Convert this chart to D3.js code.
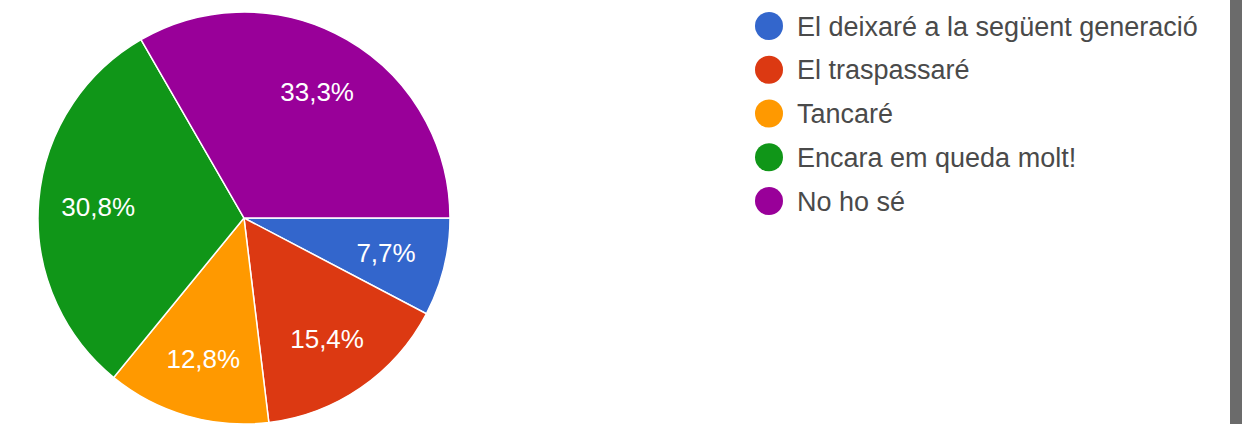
<!DOCTYPE html>
<html>
<head>
<meta charset="utf-8">
<script src="https://cdn.jsdelivr.net/npm/d3@7"></script>
<style>
  body { margin: 0; background: #fff; }
  svg { display: block; font-family: "Liberation Sans", Arial, sans-serif; }
</style>
</head>
<body>
<svg width="1242" height="424"></svg>
<script>
const categories = ["El deixaré a la següent generació", "El traspassaré", "Tancaré", "Encara em queda molt!", "No ho sé"];
const counts = [3, 6, 5, 12, 13];
const percentLabels = ["7,7%", "15,4%", "12,8%", "30,8%", "33,3%"];
const colors = ["#3366cc", "#dc3912", "#ff9900", "#109618", "#990099"];

const svg = d3.select("svg");
const width = +svg.attr("width");
const height = +svg.attr("height");

svg.append("rect").attr("width", width).attr("height", height).attr("fill", "#fff");

// dark scrollbar strip at the right edge
svg.append("rect")
    .attr("x", width - 12).attr("y", 0)
    .attr("width", 12).attr("height", height)
    .attr("fill", "#6b6b6b");

const data = categories.map((c, i) => ({ cat: c, value: counts[i], label: percentLabels[i], color: colors[i] }));

const radius = 206;
const g = svg.append("g").attr("transform", "translate(244, 218)");

// slices start at 3 o'clock and go clockwise
const pie = d3.pie()
    .sort(null)
    .value(d => d.value)
    .startAngle(Math.PI / 2)
    .endAngle(Math.PI / 2 + 2 * Math.PI);

const arc = d3.arc().innerRadius(0).outerRadius(radius);
const labelArc = d3.arc().innerRadius(radius * 0.71).outerRadius(radius * 0.71);

const arcs = pie(data);

g.selectAll("path").data(arcs)
    .enter().append("path")
        .attr("d", arc)
        .attr("fill", d => d.data.color)
        .attr("stroke", "#fff")
        .attr("stroke-width", 1.5);

g.selectAll("text").data(arcs)
    .enter().append("text")
        .attr("transform", d => `translate(${labelArc.centroid(d)})`)
        .attr("text-anchor", "middle")
        .attr("dy", "0.36em")
        .attr("fill", "#fff")
        .attr("font-size", 26)
        .text(d => d.data.label);

// legend
const legendY = d3.scalePoint()
    .domain(categories)
    .range([26, 201]);

const legend = svg.append("g").selectAll("g").data(data)
    .enter().append("g")
        .attr("transform", d => `translate(769, ${legendY(d.cat)})`);

legend.append("circle")
    .attr("r", 14)
    .attr("fill", d => d.color);

legend.append("text")
    .attr("x", 28)
    .attr("dy", "0.36em")
    .attr("fill", "#4a4a4a")
    .attr("font-size", 27)
    .text(d => d.cat);
</script>
</body>
</html>
